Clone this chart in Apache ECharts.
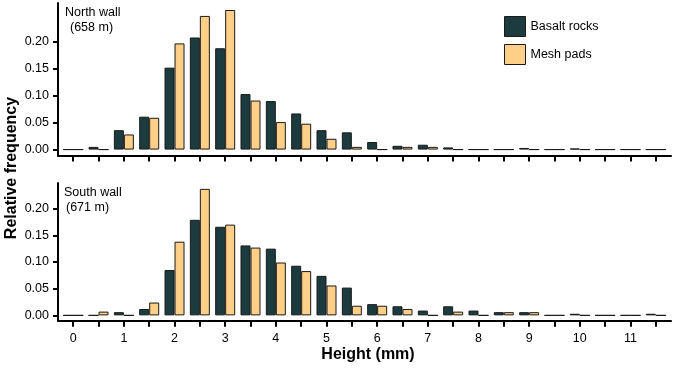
<!DOCTYPE html>
<html>
<head>
<meta charset="utf-8">
<script src="https://cdn.jsdelivr.net/npm/echarts@6/dist/echarts.min.js"></script>
<style>html,body{margin:0;padding:0;background:#fff}#c{width:675px;height:368px}</style>
</head>
<body>
<div id="c"></div>
<script>
// Bin positions (mm)
var heights = [0,0.5,1,1.5,2,2.5,3,3.5,4,4.5,5,5.5,6,6.5,7,7.5,8,8.5,9,9.5,10,10.5,11,11.5];
var xTickLabels = [0,1,2,3,4,5,6,7,8,9,10,11];
var yTickValues = [0,0.05,0.10,0.15,0.20];
// North wall (658 m)
var northBasalt = [0,0.005,0.036,0.061,0.152,0.208,0.188,0.103,0.090,0.067,0.036,0.032,0.014,0.007,0.009,0.004,0,0,0.003,0,0.002,0,0,0];
var northMesh   = [0,0,0.028,0.059,0.197,0.248,0.259,0.091,0.051,0.048,0.020,0.005,0,0.005,0.005,0,0,0,0,0,0,0,0,0];
// South wall (671 m)
var southBasalt = [0,0,0.006,0.012,0.085,0.179,0.166,0.131,0.125,0.093,0.074,0.052,0.021,0.017,0.009,0.017,0.009,0.006,0.006,0,0.003,0,0,0.003];
var southMesh   = [0,0.007,0,0.024,0.138,0.237,0.170,0.127,0.099,0.083,0.056,0.018,0.018,0.012,0,0.007,0,0.006,0.006,0,0,0,0,0];

var FONT = 'Liberation Sans';
var FS = 12.5;
var DARK = '#1c3b3e', LIGHT = '#fecf86', EDGE = '#1a1a1a';

function pairs(arr){ return heights.map(function(h,i){ return [h, arr[i]]; }); }

function xAxis(grid, labels){
  return {
    type:'value', gridIndex:grid, min:-0.3, max:11.8,
    axisLine:{show:true, onZero:false, lineStyle:{color:'#000', width:2}},
    axisTick:{show:true, customValues:heights, length:6, lineStyle:{color:'#000', width:2}},
    axisLabel:{show:labels, customValues:xTickLabels, color:'#000', fontFamily:FONT, fontSize:FS, margin:11},
    splitLine:{show:false}
  };
}
function yAxis(grid, min, max){
  return {
    type:'value', gridIndex:grid, min:min, max:max,
    axisLine:{show:true, onZero:false, lineStyle:{color:'#000', width:2}},
    axisTick:{show:true, customValues:yTickValues, length:5, lineStyle:{color:'#000', width:2}},
    axisLabel:{customValues:yTickValues, formatter:function(v){return v.toFixed(2);}, color:'#000', fontFamily:FONT, fontSize:FS, margin:9},
    splitLine:{show:false}
  };
}
function bar(name, arr, idx, color){
  return {
    type:'bar', name:name, xAxisIndex:idx, yAxisIndex:idx, data:pairs(arr),
    barWidth:10, barGap:'0%',
    itemStyle:{color:color, borderColor:EDGE, borderWidth:1},
    emphasis:{disabled:true}, animation:false
  };
}

var chart = echarts.init(document.getElementById('c'), null, {renderer:'canvas'});
chart.setOption({
  animation:false,
  textStyle:{fontFamily:FONT},
  grid:[
    {left:58, width:613, top:3, height:152.5},
    {left:58, width:613, top:183, height:137.7}
  ],
  xAxis:[xAxis(0,false), xAxis(1,true)],
  yAxis:[yAxis(0,-0.011,0.272), yAxis(1,-0.01,0.248)],
  legend:{
    data:['Basalt rocks','Mesh pads'], orient:'vertical', left:504, top:16, padding:0,
    itemWidth:21, itemHeight:20, itemGap:7, icon:'rect',
    textStyle:{fontFamily:FONT, fontSize:FS, color:'#000'},
    itemStyle:{borderColor:EDGE, borderWidth:1}
  },
  graphic:[
    {type:'text', left:65, top:6, style:{text:'North wall', fontFamily:FONT, fontSize:FS, fill:'#000'}},
    {type:'text', left:70, top:21, style:{text:'(658 m)', fontFamily:FONT, fontSize:FS, fill:'#000'}},
    {type:'text', left:64, top:186, style:{text:'South wall', fontFamily:FONT, fontSize:FS, fill:'#000'}},
    {type:'text', left:66, top:201, style:{text:'(671 m)', fontFamily:FONT, fontSize:FS, fill:'#000'}},
    {type:'text', x:12, y:168, rotation:Math.PI/2, style:{text:'Relative frequency', fontFamily:FONT, fontSize:16, fontWeight:'bold', fill:'#000', align:'center', verticalAlign:'middle'}},
    {type:'text', x:368, y:355, style:{text:'Height (mm)', fontFamily:FONT, fontSize:16, fontWeight:'bold', fill:'#000', align:'center', verticalAlign:'middle'}}
  ],
  series:[
    bar('Basalt rocks', northBasalt, 0, DARK),
    bar('Mesh pads', northMesh, 0, LIGHT),
    bar('Basalt rocks', southBasalt, 1, DARK),
    bar('Mesh pads', southMesh, 1, LIGHT)
  ]
});
</script>
</body>
</html>
